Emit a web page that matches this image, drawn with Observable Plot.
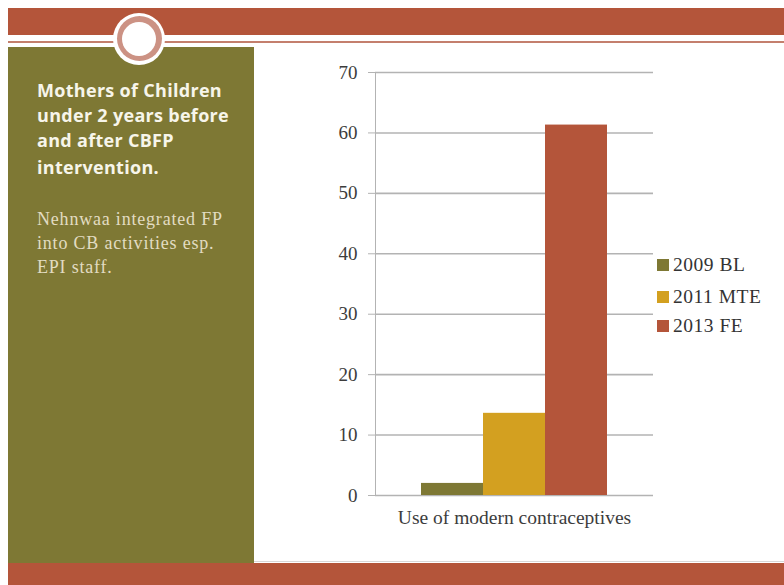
<!DOCTYPE html>
<html>
<head>
<meta charset="utf-8">
<script src="https://cdn.jsdelivr.net/npm/d3@7"></script>
<script src="https://cdn.jsdelivr.net/npm/@observablehq/plot@0.6"></script>
<style>
  html, body { margin: 0; padding: 0; }
  body { width: 784px; height: 585px; position: relative; overflow: hidden; background: #fff; }
  .abs { position: absolute; }
  #chart svg text { fill: #3c3c3c; }
  .title { font-family: "Open Sans", sans-serif; font-weight: 700; font-size: 18px; color: #f7f5ea; line-height: 25px; letter-spacing: 0.3px; white-space: nowrap; }
  .sub { font-family: "Liberation Serif", serif; font-size: 18px; color: #e2dcc2; line-height: 24px; letter-spacing: 0.8px; white-space: nowrap; }
  .leg { font-family: "Liberation Serif", serif; font-size: 19.5px; color: #333; letter-spacing: 0.5px; }
</style>
</head>
<body>
<div class="abs" style="left:8px;top:8px;right:0;height:27px;background:#b4553a"></div>
<div class="abs" style="left:8px;top:41px;right:0;height:2px;background:#c47f6d"></div>
<div class="abs" style="left:8px;top:47px;width:246px;height:516px;background:#7e7834"></div>
<div class="abs" style="left:254px;top:561px;right:0;height:1px;background:#d8d8d8"></div>
<div class="abs" style="left:8px;top:563px;right:0;bottom:0;background:#b4553a"></div>
<div class="abs" style="left:113px;top:12.5px;width:52px;height:52px;border-radius:50%;background:#fff"></div>
<div class="abs" style="left:116.5px;top:16px;width:45px;height:45px;border-radius:50%;background:#cc9284"></div>
<div class="abs" style="left:122px;top:21.5px;width:34px;height:34px;border-radius:50%;background:#fff"></div>

<div class="abs title" style="left:37px;top:78px;">
  <div>Mothers of Children</div>
  <div>under 2 years before</div>
  <div>and after CBFP</div>
  <div style="margin-top:2px">intervention.</div>
</div>
<div class="abs sub" style="left:37px;top:207px;">
  <div>Nehnwaa integrated FP</div>
  <div>into CB activities esp.</div>
  <div>EPI staff.</div>
</div>

<div id="chart" class="abs" style="left:300px;top:50px;"></div>
<div id="legend" class="abs" style="left:657px;top:253px;"></div>

<script>
const category = "Use of modern contraceptives";
const series = ["2009 BL", "2011 MTE", "2013 FE"];
const values = [2.0, 13.6, 61.3];
const colors = ["#7e7834", "#d3a020", "#b4553a"];
const yTicks = [0, 10, 20, 30, 40, 50, 60, 70];

const data = series.map((s, i) => ({series: s, value: values[i], category}));

const chart = Plot.plot({
  width: 363,
  height: 485,
  marginLeft: 75,
  marginRight: 10,
  marginTop: 22,
  marginBottom: 40,
  style: {fontFamily: "Liberation Serif, serif", fontSize: "19px", color: "#b3b3b3", background: "transparent", overflow: "visible"},
  x: {domain: series, paddingInner: 0, paddingOuter: 0.717, axis: null},
  y: {domain: [0, 70], ticks: yTicks, label: null, tickSize: 7, tickPadding: 11, line: true},
  color: {domain: series, range: colors},
  marks: [
    Plot.ruleY(yTicks, {stroke: "#b3b3b3", strokeWidth: 1.6}),
    Plot.barY(data, {x: "series", y: "value", fill: "series"}),
    Plot.text([category], {text: d => d, frameAnchor: "bottom", dy: 28, fontSize: 19.5, fill: "#3c3c3c", letterSpacing: 0.3})
  ]
});
document.getElementById("chart").appendChild(chart);

const legend = document.getElementById("legend");
series.forEach((s, i) => {
  const row = document.createElement("div");
  row.className = "leg";
  row.style.cssText = `position:absolute;left:0;top:${[0, 32, 61][i]}px;white-space:nowrap;height:24px;display:flex;align-items:center;`;
  row.innerHTML = `<span style="display:inline-block;width:12px;height:12px;background:${colors[i]};margin-right:4px"></span><span>${s}</span>`;
  legend.appendChild(row);
});
</script>
</body>
</html>
